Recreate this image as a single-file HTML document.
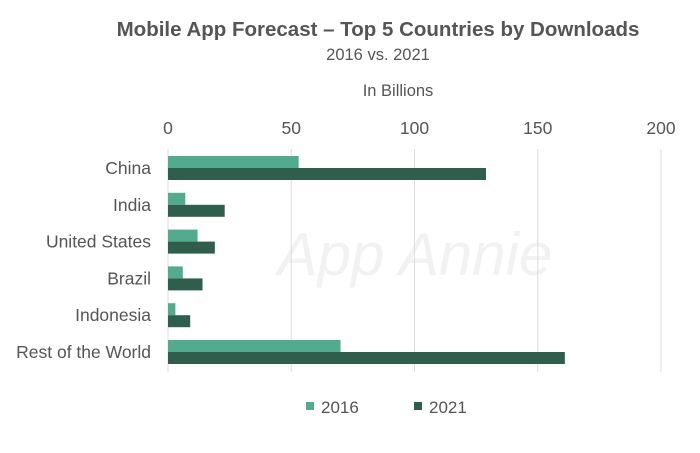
<!DOCTYPE html>
<html><head><meta charset="utf-8"><style>
body{margin:0;background:#fff;width:700px;height:448px;overflow:hidden;font-family:"Liberation Sans",sans-serif}
svg text{font-family:"Liberation Sans",sans-serif}
</style></head><body>
<svg id="chart" width="700" height="448">
<text x="378" y="36" text-anchor="middle" font-size="20.5" font-weight="bold" fill="#555">Mobile App Forecast – Top 5 Countries by Downloads</text>
<text x="378" y="60" text-anchor="middle" font-size="16.5" fill="#555">2016 vs. 2021</text>
<text x="398" y="96" text-anchor="middle" font-size="16.5" fill="#555">In Billions</text>
<text x="415" y="275" text-anchor="middle" font-size="60" font-style="italic" fill="#f2f2f2">App Annie</text>
<g id="grid"></g><g id="bars"></g><g id="labels"></g>
<g>
<rect x="306" y="402" width="8" height="8" fill="#52ab8f"/>
<text x="321" y="413" font-size="17" fill="#555">2016</text>
<rect x="414" y="402" width="8" height="8" fill="#2f5e4c"/>
<text x="429" y="413" font-size="17" fill="#555">2021</text>
</g>
</svg>
<script>
const categories=["China","India","United States","Brazil","Indonesia","Rest of the World"];
const values2016=[53,7,12,6,3,70];
const values2021=[129,23,19,14,9,161];
const ticks=[0,50,100,150,200];
const NS="http://www.w3.org/2000/svg";
const x0=168,x1=661,maxV=200,plotTop=149,rowH=36.8,barH=12;
const xs=v=>x0+(x1-x0)*v/maxV;
function mk(t,a,p){const e=document.createElementNS(NS,t);for(const k in a)e.setAttribute(k,a[k]);p.appendChild(e);return e;}
const g=document.getElementById('grid'),b=document.getElementById('bars'),l=document.getElementById('labels');
ticks.forEach(t=>{
 const ln=mk('line',{x1:xs(t),x2:xs(t),y1:plotTop,y2:372,stroke:'#ddd','stroke-width':1},g);
 
 
 const tx=mk('text',{x:xs(t),y:134,'text-anchor':'middle','font-size':17.5,fill:'#555'},l);
 tx.textContent=t;
 
 
});
categories.forEach((c,i)=>{
 const cy=plotTop+19+i*rowH;
 const r1=mk('rect',{x:x0,y:cy-barH,width:xs(values2016[i])-x0,height:barH,fill:'#52ab8f'},b);
 
 
 const r2=mk('rect',{x:x0,y:cy,width:xs(values2021[i])-x0,height:barH,fill:'#2f5e4c'},b);
 
 
 const tx=mk('text',{x:151,y:cy+6,'text-anchor':'end','font-size':17.5,fill:'#555'},l);
 tx.textContent=c;
 
 
});
</script>
</body></html>
